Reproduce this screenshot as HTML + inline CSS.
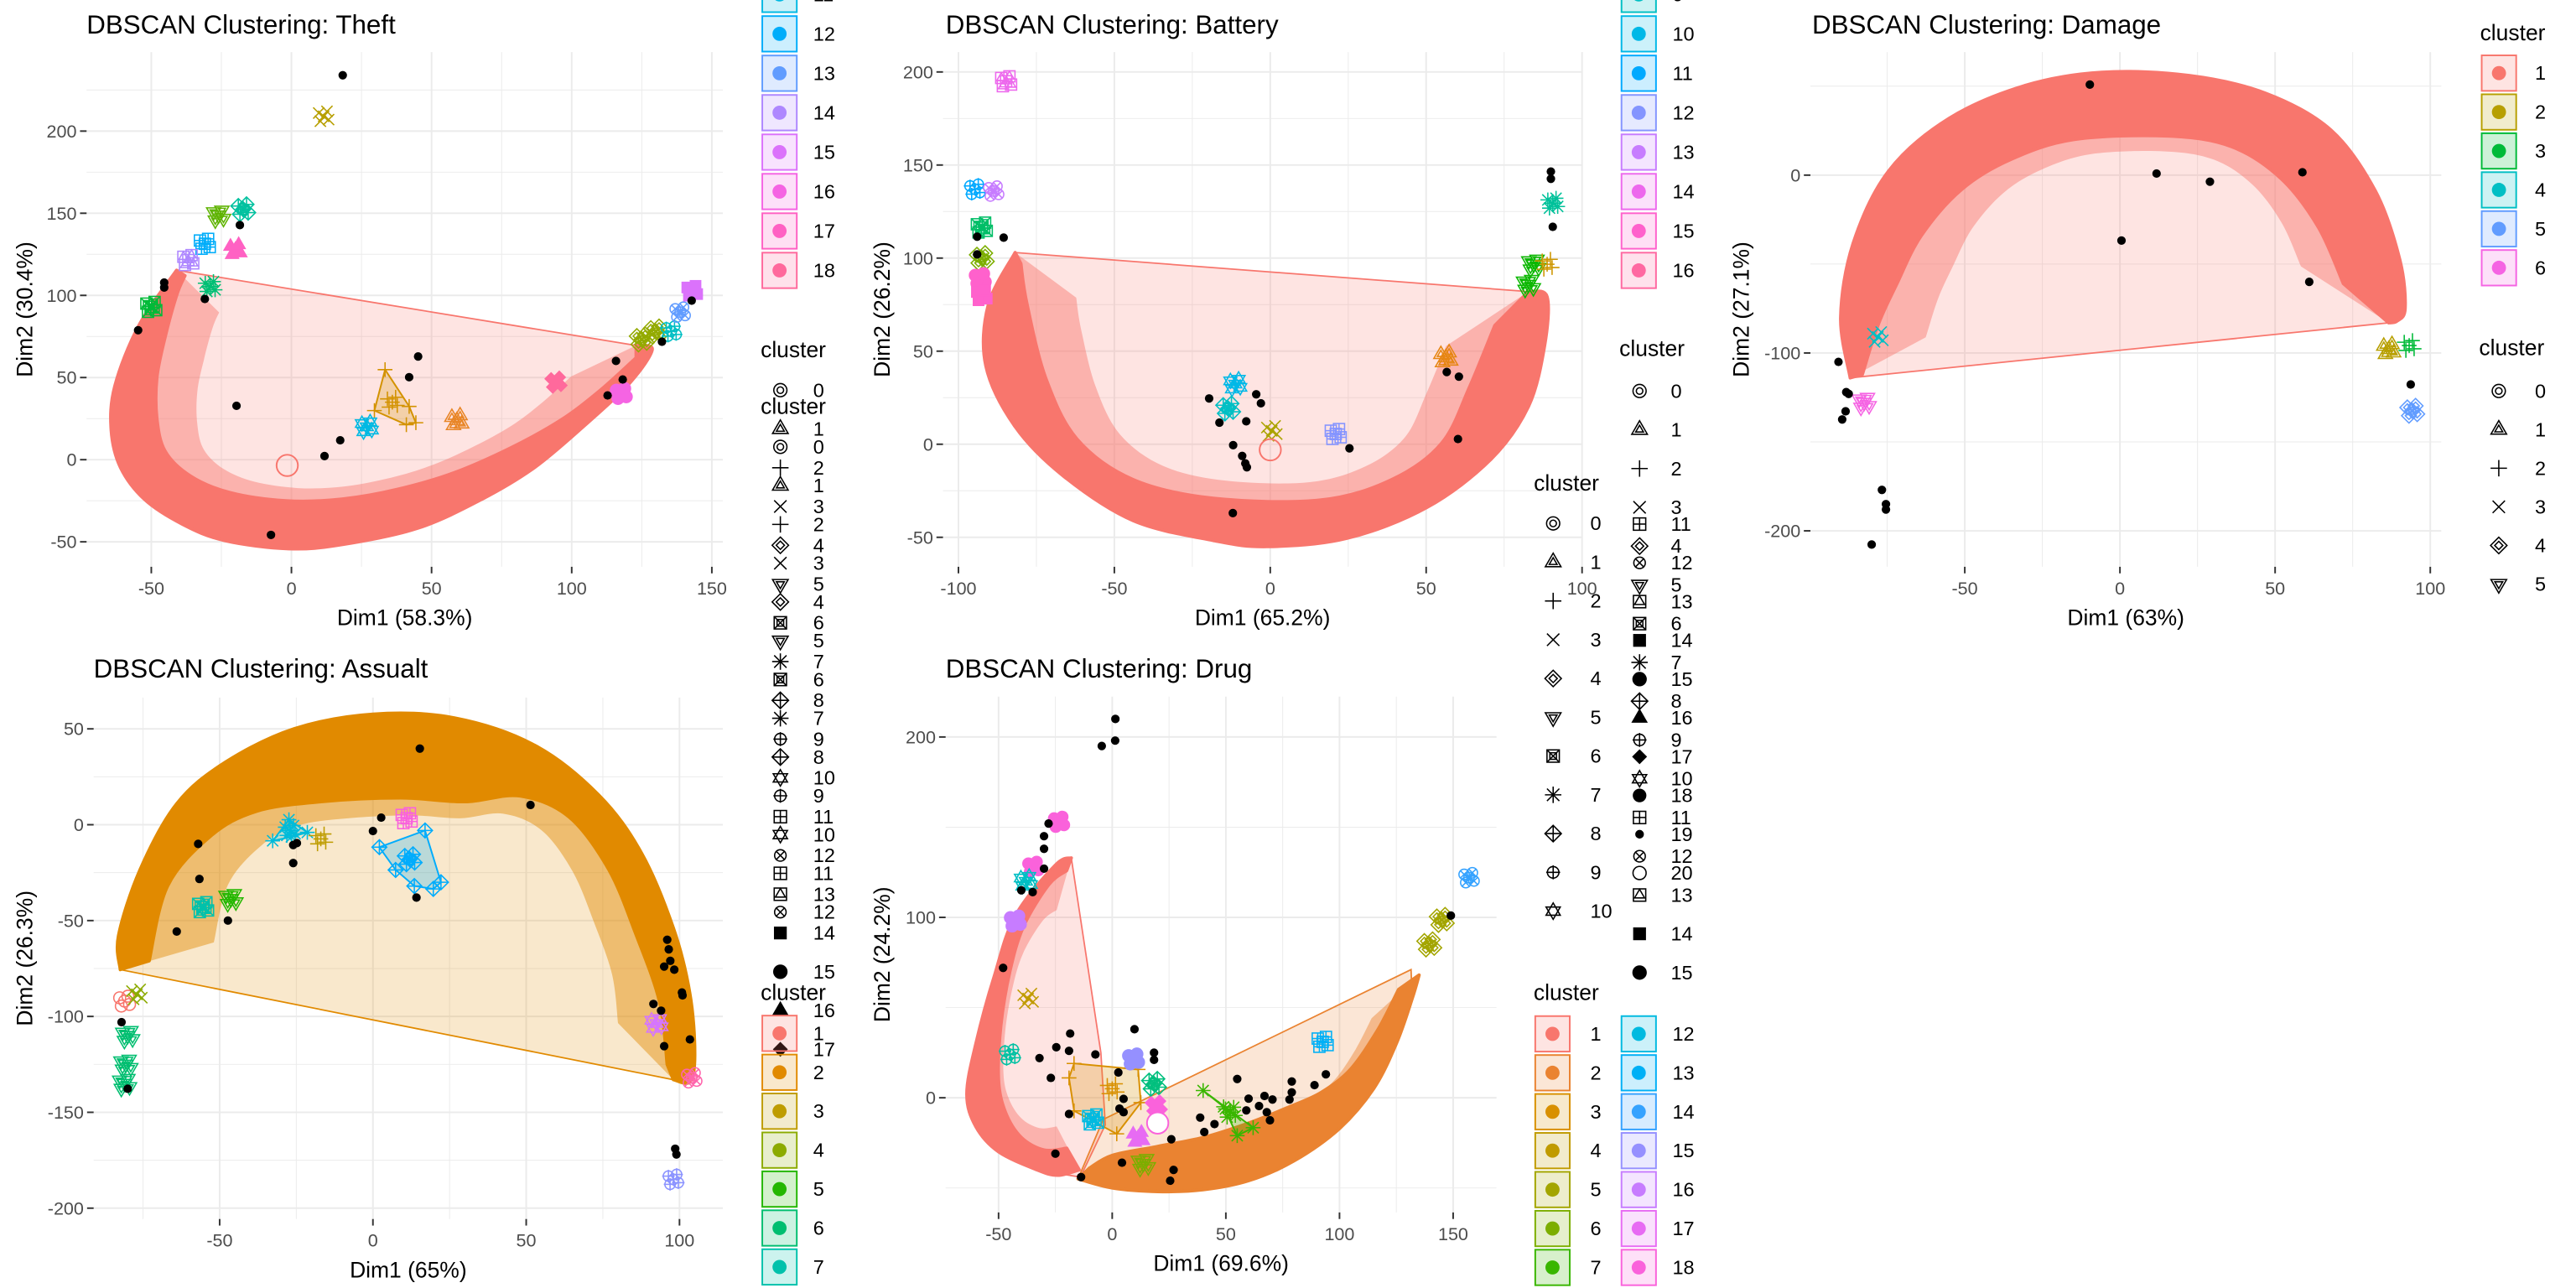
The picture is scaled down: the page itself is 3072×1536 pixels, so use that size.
<!DOCTYPE html>
<html><head><meta charset="utf-8">
<style>
html,body{margin:0;padding:0;background:#fff;}
svg{display:block;}
text{font-family:"Liberation Sans",Arial,sans-serif;}
</style></head>
<body>
<svg id="chart" xmlns="http://www.w3.org/2000/svg" width="3072" height="1536" viewBox="0 0 1568 784"></svg>
<script>
// ---------------- DATA ----------------
// THEFT
const theftXTicks=[-50,0,50,100,150];
const theftYTicks=[-50,0,50,100,150,200];
const theftOuter=[[-41,115.3],[-54.4,81.8],[-63,44.8],[-64.3,17.8],[-61,-4.7],[-52.4,-24.2],[-39,-39.2],[-23.9,-49.2],[-1,-54.2],[18,-51.7],[44.9,-41.8],[67.8,-24.2],[86.8,-4.7],[105.9,22.8],[121,47.2],[128.7,67],[123,69.5]];
const theftInner=[[123,62],[110,42],[96,24],[78,7],[58,-8],[38,-18],[18,-24],[-2,-25],[-22,-20],[-36,-10],[-45,5],[-48,25],[-48,50],[-45,75],[-41,100],[-38,112]];
const theftNoiseX=[18.3,-18.4,-45.4,-45.4,-30.9,-54.7,-19.6,17.4,11.8,45.2,42,-7.3,115.8,118.2,112.8,132.2,142.8];
const theftNoiseY=[234,142.8,107.8,104.8,97.8,78.8,32.8,11.8,2.2,62.8,50.2,-45.8,60.1,48.8,39.1,71.8,96.8];
const theftClX=[11.5,-26,-17.2,-30.9,-36.8,-20,-29,-50,26.9,59,94.4,117.7,125,130,135.5,138.7,143,36];
const theftClY=[209,148.8,152.4,131.4,121.5,127.8,105.4,93,20,23.8,47.2,40.3,73.2,78,78.2,89.8,102.8,35];
const theftClId=[4,6,9,12,14,17,8,7,11,2,18,16,5,5,10,13,15,3];
const theftClShape=[3,5,8,11,13,16,7,6,10,1,17,15,4,4,9,12,14,2];
const theftSubHull=[[33.4,54.8],[42,32.4],[44.4,22.5],[41,21.3],[29.6,29.9]];
// BATTERY
const batteryXTicks=[-100,-50,0,50,100];
const batteryYTicks=[-50,0,50,100,150,200];
const batteryOuter=[[-81.8,103],[-90.4,75],[-91.2,42],[-81.8,9.4],[-66.4,-17],[-44,-41],[-18.3,-51.7],[-1,-55],[24.5,-50.6],[50.2,-34],[70.8,-8],[82.8,20.3],[88,53],[88.8,79.3],[82.8,82]];
const batteryInner=[[72,63.8],[64,31.2],[55,0.6],[39,-19],[16,-30],[-18.3,-29],[-44,-19],[-62,2.8],[-72,35.6],[-78,75],[-80,97]];
const batteryNoiseX=[-94,-94,-85.5,90,90,90.6,56.6,60.5,60.2,25.4,-19.6,-16.3,-7.7,-4.5,-3,-11.9,-9,-8,-7.5,-12];
const batteryNoiseY=[111.5,102,111,146.5,142.6,116.8,38.8,36.3,2.8,-2.2,24.6,11.6,12.3,26.8,22,-0.5,-6.3,-10.3,-12.4,-37];
const batteryClX=[-84.7,-94.7,-88.7,-92.5,-92.5,-93,-92.5,90.6,84.5,82.8,88.8,56.3,-11.2,-13.5,0.5,21];
const batteryClY=[195,137,136,116.4,100,89,80,129.5,96.7,85.8,96.7,46.5,32.3,19.2,7.2,5.5];
const batteryClId=[14,11,13,7,5,15,15,8,6,6,3,2,10,9,4,12];
const batteryClShape=[13,9,12,6,4,15,14,7,5,5,2,1,10,8,3,11];
// DAMAGE
const damageXTicks=[-50,0,50,100];
const damageYTicks=[-200,-100,0];
const damageOuter=[[-86.9,-114],[-90,-80],[-86,-38.6],[-74.5,2.4],[-55,32],[-30.5,50.4],[-5.8,57.8],[22.3,56],[47,46],[68,25.3],[82.3,-9],[90.2,-47.8],[91.9,-75],[89.3,-82],[86.6,-83]];
const damageInner=[[72,-61],[64,-29.5],[52,-2],[36,16],[15.3,22],[-14.7,20],[-35,9],[-51,-8],[-64,-34],[-72,-61.5],[-78,-84.4],[-83,-112]];
const damageNoiseX=[-9.7,11.8,29,0.5,58.8,61,93.7,-90.7,-88.2,-87.4,-88.4,-89.5,-76.7,-75.4,-75.4,-80];
const damageNoiseY=[50.9,0.9,-3.7,-36.8,1.6,-60,-117.7,-105,-122,-123,-132.8,-137.4,-177,-185,-188,-207.7];
const damageClX=[-78,-82.4,86.6,93.2,94.2];
const damageClY=[-91,-127.8,-98,-95.8,-132.5];
const damageClId=[4,6,2,3,5];
const damageClShape=[3,5,1,2,4];
// ASSAULT
const assaultXTicks=[-50,0,50,100];
const assaultYTicks=[-200,-150,-100,-50,0,50];
const assaultOuter=[[-82.4,-75.6],[-83,-58],[-76,-23.6],[-64,11],[-48,32.7],[-25.7,50],[0,57.7],[26.6,55.7],[52.8,41.4],[73.7,15.4],[87.7,-15],[98,-54],[103.4,-88],[105,-119],[103.5,-134],[98,-133]];
const assaultInner=[[96,-125],[93.5,-92.5],[86,-58],[77,-23.6],[64,4],[48,15],[30,12],[9,14],[-17,12],[-38,7],[-53,-6],[-67,-32],[-73,-71]];
const assaultNoiseX=[15.3,51.4,2.7,0,-26,-24.8,-26,-57,-56.6,-47.3,-64,14.2,96,96.5,97,95,98.3,100.8,101,91.5,94,103.4,95,-82,-80,98.6,99];
const assaultNoiseY=[39.7,10.3,3.7,-3.3,-10.6,-9.6,-20,-10,-28.3,-50,-55.7,-38,-60,-65,-71,-74,-75.6,-87.5,-89,-93.5,-97,-112,-115.5,-103,-137.7,-169,-172];
const assaultClX=[-27,-17,11,-55.4,-46.3,-81,-77,-80.6,-80,-81,92.5,104,98,12];
const assaultClY=[-3,-7.4,3.4,-43,-38.6,-92,-88.5,-125,-110,-135,-103.7,-132,-185,-18];
const assaultClId=[8,3,12,7,5,1,4,6,6,6,11,13,10,9];
const assaultClShape=[7,2,11,6,5,20,3,5,5,5,10,12,9,8];
const assaultHullA=[[-32.7,-8.4],[-27.4,2.6],[-21.4,-4],[-26.6,-6.3]];
const assaultHullB=[[2.1,-11.7],[17,-3],[22.2,-30],[19.7,-33.5],[13.5,-32],[7.4,-23.6]];
// DRUG
const drugXTicks=[-50,0,50,100,150];
const drugYTicks=[0,100,200];
const drugOuter1=[[-18,133],[-25,129],[-42.6,101],[-52,67],[-60,30],[-64,2],[-60,-16],[-50,-30],[-33,-40],[-24,-43],[-14.5,-40]];
const drugInner1=[[-20,-28],[-30,-29],[-40,-22],[-47,-8],[-50,10],[-49,40],[-45,70],[-39,95],[-28,118],[-20,126]];
const drugHull1=[[-18,133],[-5,25],[-3,-15],[-14,-44],[-33,-40],[-50,-30],[-60,-16],[-64,2],[-60,30],[-52,67],[-42.6,101],[-25,129]];
const drugOuter2=[[-15,-45],[0,-50],[20,-52],[40,-51],[60,-46],[80,-35],[100,-17],[115,5],[125,30],[132,55],[135,68]];
const drugInner2=[[126,60],[117,38],[105,16],[92,3],[78,-5],[60,-14],[40,-22],[20,-27],[0,-32],[-10,-39]];
const drugHull2=[[-15,-45],[-4,-12],[131.5,71],[132,55],[125,30],[115,5],[100,-17],[80,-35],[60,-46],[40,-51],[20,-52],[0,-50]];
const drugHull3=[[-16.8,19],[11.4,15.7],[12.6,-2.7],[2,-20],[-16.8,-7.3],[-19,11]];
const drugHull7=[[40,4],[62,-16.6],[55,-21],[49,-5]];
const drugNoiseX=[1.4,1.3,-4.6,-28,-30,-30,-30,-35,-40,-48,-18.5,-24.6,-19,-32,-27,-7.4,9.8,18.4,18.4,2.7,5,3.2,5,-19,-25,-13.7,4.3,26,27,25.5,38.7,40.5,45,55,60,59,64.6,67,70.5,68,69.4,79,79,78,89,94,149];
const drugNoiseY=[210,198,195,152,145,138,127,114,115,72,35.6,28,26,22,11,24,38,25,21,14,-0.6,-6,-8,-9,-31,-44,-36,-23,-40,-46,-11,-19,-14.6,10.4,-0.5,-7,-4.6,1,-1,-8,-12.5,9,3,-1,7,13,101];
const drugClX=[-23.4,-34.7,-38,-42.6,-37,-45,9.4,18.4,19.4,11.4,13.7,-8.4,92.6,139.5,145,157,0,52];
const drugClY=[153,128,120,98,55,24,21.5,7.7,-4.6,-22,-36.5,-12,31,85,98.6,122,5,-8];
const drugClId=[18,18,11,16,4,10,15,9,18,17,6,12,13,5,5,14,3,7];
const drugClShape=[18,18,10,15,3,9,15,8,17,16,5,6,11,4,4,12,2,7];

// ---------------- RENDER ----------------
const NS='http://www.w3.org/2000/svg';
const svg=document.getElementById('chart');
function E(tag,attrs,parent){const e=document.createElementNS(NS,tag);for(const k in attrs)e.setAttribute(k,attrs[k]);parent.appendChild(e);return e;}
function hcl(h){const L=65,C=100,r=h*Math.PI/180;const u=C*Math.cos(r),v=C*Math.sin(r);
 const Xn=95.047,Yn=100,Zn=108.883;const d=Xn+15*Yn+3*Zn;const un=4*Xn/d,vn=9*Yn/d;
 const Y=Yn*Math.pow((L+16)/116,3);const up=u/(13*L)+un,vp=v/(13*L)+vn;
 const X=Y*9*up/(4*vp),Z=Y*(12-3*up-20*vp)/(4*vp);
 const x=X/100,y=Y/100,z=Z/100;
 let R=3.2406*x-1.5372*y-0.4986*z,G=-0.9689*x+1.8758*y+0.0415*z,B=0.0557*x-0.2040*y+1.0570*z;
 const g=c=>{c=c<=0.0031308?12.92*c:1.055*Math.pow(c,1/2.4)-0.055;return Math.round(Math.max(0,Math.min(1,c))*255);};
 return 'rgb('+g(R)+','+g(G)+','+g(B)+')';}
function pal(n){const a=[];for(let i=0;i<n;i++)a.push(hcl(15+360*i/n));return a;}

// Catmull-Rom smoothing of a pixel polyline -> path segment (without leading M)
function smooth(p){let d='';for(let i=0;i<p.length-1;i++){const p0=p[Math.max(0,i-1)],p1=p[i],p2=p[i+1],p3=p[Math.min(p.length-1,i+2)];
 const c1=[p1[0]+(p2[0]-p0[0])/6,p1[1]+(p2[1]-p0[1])/6],c2=[p2[0]-(p3[0]-p1[0])/6,p2[1]-(p3[1]-p1[1])/6];
 d+=' C'+c1[0].toFixed(1)+','+c1[1].toFixed(1)+' '+c2[0].toFixed(1)+','+c2[1].toFixed(1)+' '+p2[0].toFixed(1)+','+p2[1].toFixed(1);}return d;}

function mark(parent,s,cx,cy,r,col,name){
 const g=E('g',{stroke:col,fill:'none','stroke-width':0.8},parent);
 
 
 const tri=(rr,dn)=>{const k=dn?-1:1;return (cx)+','+(cy-k*rr)+' '+(cx+0.866*rr)+','+(cy+k*0.5*rr)+' '+(cx-0.866*rr)+','+(cy+k*0.5*rr);};
 const dia=rr=>cx+','+(cy-rr)+' '+(cx+rr)+','+cy+' '+cx+','+(cy+rr)+' '+(cx-rr)+','+cy;
 const plus=rr=>{E('line',{x1:cx-rr,y1:cy,x2:cx+rr,y2:cy},g);E('line',{x1:cx,y1:cy-rr,x2:cx,y2:cy+rr},g);};
 const ex=rr=>{E('line',{x1:cx-rr,y1:cy-rr,x2:cx+rr,y2:cy+rr},g);E('line',{x1:cx-rr,y1:cy+rr,x2:cx+rr,y2:cy-rr},g);};
 const sq=rr=>E('rect',{x:cx-rr,y:cy-rr,width:2*rr,height:2*rr},g);
 switch(s){
  case 0:E('circle',{cx,cy,r:r*0.8},g);E('circle',{cx,cy,r:r*0.4},g);break;
  case 1:E('polygon',{points:tri(r*1.1)},g);E('polygon',{points:tri(r*0.55)},g);break;
  case 2:plus(r);break;
  case 3:ex(r*0.75);break;
  case 4:E('polygon',{points:dia(r)},g);E('polygon',{points:dia(r*0.5)},g);break;
  case 5:E('polygon',{points:tri(r*1.1,true)},g);E('polygon',{points:tri(r*0.55,true)},g);break;
  case 6:sq(r*0.75);ex(r*0.75);sq(r*0.4);break;
  case 7:plus(r);ex(r*0.75);break;
  case 8:E('polygon',{points:dia(r)},g);plus(r);break;
  case 9:E('circle',{cx,cy,r:r*0.7},g);plus(r*0.85);break;
  case 10:E('polygon',{points:tri(r)},g);E('polygon',{points:tri(r,true)},g);break;
  case 11:sq(r*0.75);plus(r*0.75);break;
  case 12:E('circle',{cx,cy,r:r*0.7},g);ex(r*0.55);break;
  case 13:sq(r*0.75);E('polygon',{points:tri(r*0.7)},g);break;
  case 14:g.setAttribute('fill',col);sq(r*0.7);break;
  case 15:g.setAttribute('fill',col);E('circle',{cx,cy,r:r*0.8},g);break;
  case 16:g.setAttribute('fill',col);E('polygon',{points:tri(r)},g);break;
  case 17:g.setAttribute('fill',col);E('polygon',{points:dia(r*0.8)},g);break;
  case 18:g.setAttribute('fill',col);E('circle',{cx,cy,r:r*0.75},g);break;
  case 19:g.setAttribute('fill',col);E('circle',{cx,cy,r:r*0.45},g);break;
  default:E('circle',{cx,cy,r:r*0.8},g);
 }
 return g;}

function txt(parent,x,y,s,size,col,anchor,name,extra){
 const t=E('text',Object.assign({x,y,'font-size':size,fill:col,'text-anchor':anchor||'start','dominant-baseline':'central'},extra||{}),parent);
 t.textContent=s;
 
 
 return t;}

const JIT=[[0,0],[-3,-2],[3,2],[-2,3],[2,-3]];

function panel(P){
 const g=E('g',{},svg);
 
 
 const [L,T,R,B]=P.box;
 const grid=E('g',{},g);
 
 
 const minor=(ticks,f,isX)=>{const st=ticks[1]-ticks[0];for(let v=ticks[0]-st*1.5;v<=ticks[ticks.length-1]+st*1.5;v+=st/2){const p=f(v);const major=ticks.some(t=>Math.abs(t-v)<1e-6);
  const inB=isX?(p>=L&&p<=R):(p>=T&&p<=B);if(!inB)continue;
  if(!major&&Math.abs((v-ticks[0])/st-Math.round((v-ticks[0])/st))<1e-6)continue;
  const ln=isX?E('line',{x1:p,y1:T,x2:p,y2:B,stroke:'#EBEBEB','stroke-width':major?1:0.5},grid):E('line',{x1:L,y1:p,x2:R,y2:p,stroke:'#EBEBEB','stroke-width':major?1:0.5},grid);
  
  }};
 minor(P.xt,P.X,true);minor(P.yt,P.Y,false);
 const px=a=>a.map(p=>[P.X(p[0]),P.Y(p[1])]);
 const pts=a=>px(a).map(p=>p[0].toFixed(1)+','+p[1].toFixed(1)).join(' ');
 (P.hulls||[]).forEach((h,i)=>{const e=E('polygon',{points:pts(h.pts),fill:P.pal[h.id-1],'fill-opacity':0.2,stroke:P.pal[h.id-1],'stroke-width':0.9},g);
  
  });
 (P.bands||[]).forEach(b=>{
  const o=px(b.outer),inn=px(b.inner);
  // speckle zone: inner edge pulled toward the cloud centre
  const cxm=o.reduce((s,p)=>s+p[0],0)/o.length,cym=o.reduce((s,p)=>s+p[1],0)/o.length;
  const inn2=inn.map(p=>[p[0]+(cxm-p[0])*0.22,p[1]+(cym-p[1])*0.22]);
  const sp=E('path',{d:'M'+o[0][0].toFixed(1)+','+o[0][1].toFixed(1)+smooth(o)+' L'+inn2[0][0].toFixed(1)+','+inn2[0][1].toFixed(1)+smooth(inn2)+' Z',fill:P.pal[b.id-1],'fill-opacity':0.45,stroke:'none'},g);
  
  
  const e=E('path',{d:'M'+o[0][0].toFixed(1)+','+o[0][1].toFixed(1)+smooth(o)+' L'+inn[0][0].toFixed(1)+','+inn[0][1].toFixed(1)+smooth(inn)+' Z',fill:P.pal[b.id-1],stroke:P.pal[b.id-1],'stroke-width':2,'stroke-linejoin':'round'},g);
  
  });
 (P.sub||[]).forEach(h=>{const e=E('polygon',{points:pts(h.pts),fill:P.pal[h.id-1],'fill-opacity':0.25,stroke:P.pal[h.id-1],'stroke-width':1},g);
  
  
  h.pts.forEach(p=>mark(g,h.shape,P.X(p[0]),P.Y(p[1]),4.5,P.pal[h.id-1],'cluster-'+h.id+'-point'));});
 for(let i=0;i<P.cx.length;i++){const col=P.pal[P.cid[i]-1];const cx=P.X(P.cx[i]),cy=P.Y(P.cy[i]);
  JIT.forEach(j=>mark(g,P.cs[i],cx+j[0],cy+j[1],4.5,col,'cluster-'+P.cid[i]+'-point'));}
 (P.extra||[]).forEach(f=>f(g));
 for(let i=0;i<P.nx.length;i++){const c=E('circle',{cx:P.X(P.nx[i]),cy:P.Y(P.ny[i]),r:2.6,fill:'#000'},g);
  
  }
 P.xt.forEach(v=>{const p=P.X(v);const t=E('line',{x1:p,y1:B,x2:p,y2:B+4,stroke:'#333','stroke-width':1},g);
  
  
  txt(g,p,B+13,String(v),11,'#4D4D4D','middle','x-tick-label');});
 P.yt.forEach(v=>{const p=P.Y(v);const t=E('line',{x1:L-4,y1:p,x2:L,y2:p,stroke:'#333','stroke-width':1},g);
  
  
  txt(g,L-6,p,String(v),11,'#4D4D4D','end','y-tick-label');});
 txt(g,(L+R)/2,B+31,P.xlab,13.5,'#000','middle','x-axis-title');
 txt(g,P.ylx,(T+B)/2,P.ylab,13.5,'#000','middle','y-axis-title',{transform:'rotate(-90 '+P.ylx+' '+((T+B)/2)+')'});
 txt(g,P.tx,P.ty,P.title,16,'#000','start','plot-title');
}

const P18=pal(18),P16=pal(16),P6=pal(6),P13=pal(13),P20=pal(20);

panel({name:'theft',box:[52.7,31.7,440,345],X:v=>177.4+1.706*v,Y:v=>279.8-1.0*v,xt:theftXTicks,yt:theftYTicks,pal:P18,
 hulls:[{pts:theftOuter,id:1}],bands:[{outer:theftOuter,inner:theftInner,id:1}],sub:[{pts:theftSubHull,id:3,shape:2}],
 cx:theftClX,cy:theftClY,cid:theftClId,cs:theftClShape,nx:theftNoiseX,ny:theftNoiseY,
 extra:[g=>{const c=E('circle',{cx:177.4+1.706*-1.5,cy:279.8+3.5,r:6.5,fill:'none',stroke:P18[0]},g);}],
 xlab:'Dim1 (58.3%)',ylab:'Dim2 (30.4%)',ylx:15,title:'DBSCAN Clustering: Theft',tx:52.7,ty:15});

panel({name:'battery',box:[574,31.7,963,345],X:v=>773.2+1.898*v,Y:v=>270.4-1.133*v,xt:batteryXTicks,yt:batteryYTicks,pal:P16,
 hulls:[{pts:batteryOuter,id:1}],bands:[{outer:batteryOuter,inner:batteryInner,id:1}],
 cx:batteryClX,cy:batteryClY,cid:batteryClId,cs:batteryClShape,nx:batteryNoiseX,ny:batteryNoiseY,
 extra:[g=>{const c=E('circle',{cx:773.2,cy:270.4+3.4,r:6.5,fill:'none',stroke:P16[0]},g);}],
 xlab:'Dim1 (65.2%)',ylab:'Dim2 (26.2%)',ylx:537,title:'DBSCAN Clustering: Battery',tx:575.6,ty:15});

panel({name:'damage',box:[1102,31.7,1486,345],X:v=>1290.4+1.889*v,Y:v=>106.6-1.0826*v,xt:damageXTicks,yt:damageYTicks,pal:P6,
 hulls:[{pts:damageOuter,id:1}],bands:[{outer:damageOuter,inner:damageInner,id:1}],
 cx:damageClX,cy:damageClY,cid:damageClId,cs:damageClShape,nx:damageNoiseX,ny:damageNoiseY,
 xlab:'Dim1 (63%)',ylab:'Dim2 (27.1%)',ylx:1060,title:'DBSCAN Clustering: Damage',tx:1103,ty:15});

panel({name:'assault',box:[57,424.6,440,742],X:v=>227+1.866*v,Y:v=>502-1.167*v,xt:assaultXTicks,yt:assaultYTicks,pal:P13,
 hulls:[{pts:assaultOuter,id:2}],bands:[{outer:assaultOuter,inner:assaultInner,id:2}],
 sub:[{pts:assaultHullA,id:8,shape:7},{pts:assaultHullB,id:9,shape:8}],
 cx:assaultClX,cy:assaultClY,cid:assaultClId,cs:assaultClShape,nx:assaultNoiseX,ny:assaultNoiseY,
 xlab:'Dim1 (65%)',ylab:'Dim2 (26.3%)',ylx:15,title:'DBSCAN Clustering: Assualt',tx:57,ty:407});

panel({name:'drug',box:[575.6,424,910.9,738],X:v=>677+1.3835*v,Y:v=>668.2-1.098*v,xt:drugXTicks,yt:drugYTicks,pal:P20,
 hulls:[{pts:drugHull1,id:1},{pts:drugHull2,id:2}],
 bands:[{outer:drugOuter1,inner:drugInner1,id:1},{outer:drugOuter2,inner:drugInner2,id:2}],
 sub:[{pts:drugHull3,id:3,shape:2},{pts:drugHull7,id:7,shape:7}],
 cx:drugClX,cy:drugClY,cid:drugClId,cs:drugClShape,nx:drugNoiseX,ny:drugNoiseY,
 extra:[g=>{const c=E('circle',{cx:677+1.3835*20,cy:668.2+1.098*14,r:6.5,fill:'#fff',stroke:P20[17]},g);}],
 xlab:'Dim1 (69.6%)',ylab:'Dim2 (24.2%)',ylx:537,title:'DBSCAN Clustering: Drug',tx:575.6,ty:407});

// ---------------- LEGENDS ----------------
function fillLegend(x,labelX,y0,step,labels,palette,title,titleY){
 const g=E('g',{},svg);
 
 
 if(title)txt(g,x-1,titleY,'cluster',13.5,'#000','start','legend-title');
 labels.forEach((k,i)=>{const y=y0+i*step;const col=palette[k-1];
  const r=E('rect',{x:x,y:y-10.8,width:21,height:21.6,fill:col,'fill-opacity':0.2,stroke:col,'stroke-width':1},g);
  
  
  const c=E('circle',{cx:x+10.5,cy:y,r:4.3,fill:col},g);
  
  
  txt(g,labelX,y,String(k),12,'#000','start','legend-label');});}
function shapeLegend(sx,labelX,y0,step,labels,title,titleX,titleY){
 const g=E('g',{},svg);
 
 
 if(title)txt(g,titleX,titleY,'cluster',13.5,'#000','start','legend-title');
 labels.forEach((k,i)=>{const y=y0+i*step;
  mark(g,k,sx,y,5,'#000','legend-symbol-'+k);
  txt(g,labelX,y,String(k),12,'#000','start','legend-label');});}
const rng=(a,b)=>{const r=[];for(let i=a;i<=b;i++)r.push(i);return r;};
// theft
fillLegend(464,495,-3.4,24,rng(11,18),P18,false);
shapeLegend(475,495,237.5,23.6,rng(0,17),true,463,212.8);
// assault
shapeLegend(475,495,272,23.6,rng(0,12),true,463,247.4);
fillLegend(464,495,629,23.7,rng(1,7),P13,true,604);
// battery
fillLegend(987,1018,-3.4,24,rng(9,16),P16,false);
shapeLegend(998,1017,238,23.6,rng(0,15),true,985.7,212);
// drug
shapeLegend(945.4,968,318.6,23.6,rng(0,10),true,933.6,294);
shapeLegend(998,1017,319,23.6,rng(11,20),false);
fillLegend(934.5,968,629.3,23.7,rng(1,7),P20,true,604);
fillLegend(987,1018,629.3,23.7,rng(12,18),P20,false);
// damage
fillLegend(1510.6,1543,44.5,23.7,rng(1,6),P6,true,20);
shapeLegend(1521,1543,238,23.5,rng(0,5),true,1509,211.5);
</script>
</body></html>
